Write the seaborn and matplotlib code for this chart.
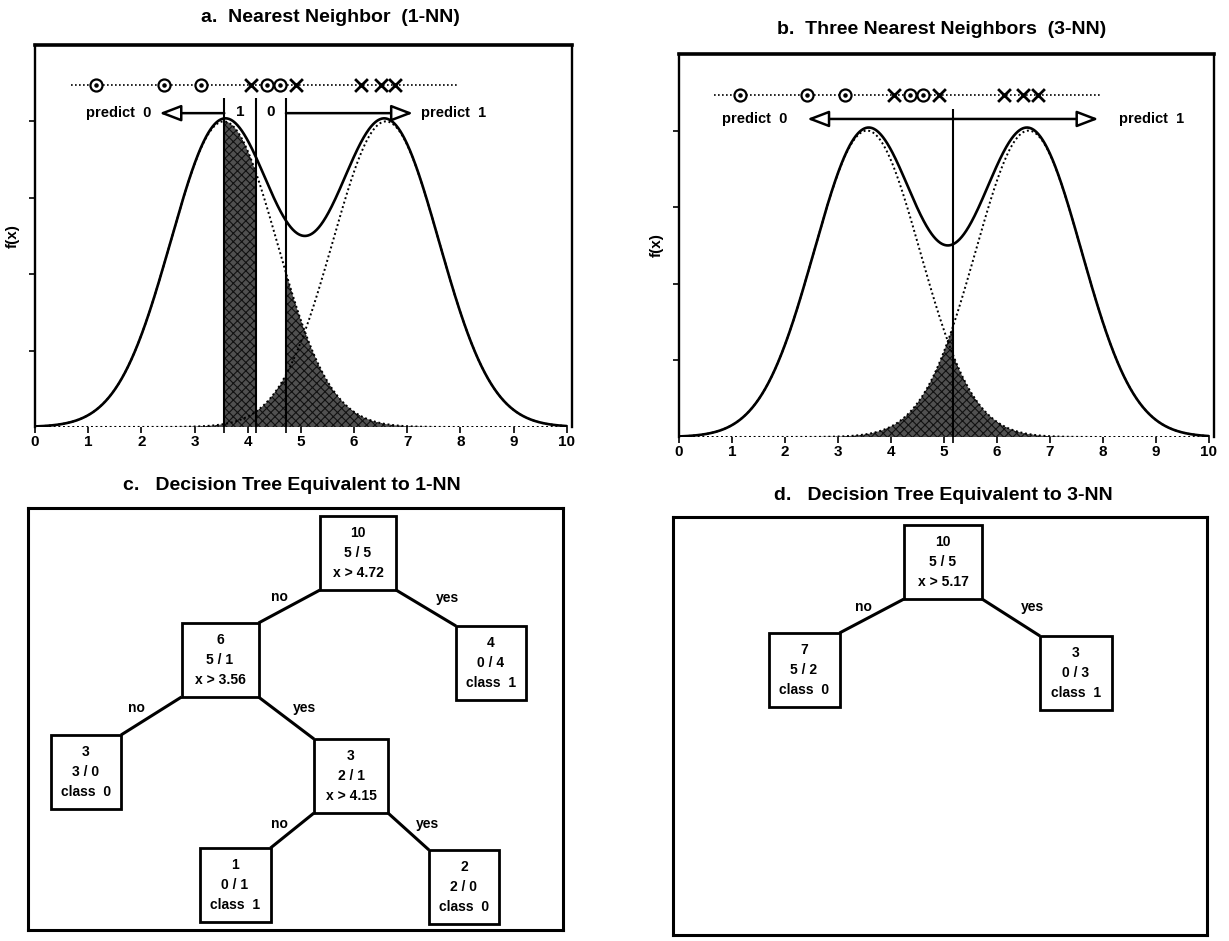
import numpy as np
import pandas as pd
import matplotlib
matplotlib.use("Agg")
import matplotlib.pyplot as plt
import seaborn as sns
from matplotlib.patches import Rectangle

# ---- class-conditional densities (equal-variance normals, peak scaled to 1) ----
class0_mean = 3.55
class1_mean = 6.6
class_sd = 1.0

# ---- training sample drawn on the line above the densities ----
class0_points = [1.15, 2.42, 3.13, 4.36, 4.60]
class1_points = [4.06, 4.90, 6.14, 6.50, 6.78]

# ---- decision boundaries and the class predicted in each region ----
nn1_bounds = [3.56, 4.15, 4.72]
nn1_predictions = [0, 1, 0, 1]
nn3_bounds = [5.17]
nn3_predictions = [0, 1]

x_ticks = list(range(0, 11))
y_ticks = [0.25, 0.5, 0.75, 1.0]

# ---- equivalent decision trees ----
tree_c_totals = ["10", "6", "4", "3", "3", "1", "2"]
tree_c_counts = ["5 / 5", "5 / 1", "0 / 4", "3 / 0", "2 / 1", "0 / 1", "2 / 0"]
tree_c_rules = ["x > 4.72", "x > 3.56", "class  1", "class  0", "x > 4.15", "class  1", "class  0"]
tree_c_edges = [(0, 1, "no"), (0, 2, "yes"), (1, 3, "no"), (1, 4, "yes"), (4, 5, "no"), (4, 6, "yes")]

tree_d_totals = ["10", "7", "3"]
tree_d_counts = ["5 / 5", "5 / 2", "0 / 3"]
tree_d_rules = ["x > 5.17", "class  0", "class  1"]
tree_d_edges = [(0, 1, "no"), (0, 2, "yes")]

# ---- style ----
sns.set_theme(style="white")
plt.rcParams["font.family"] = ["Liberation Sans", "DejaVu Sans"]
plt.rcParams["font.weight"] = "bold"
plt.rcParams["hatch.linewidth"] = 0.8
for key in ("text.color", "axes.labelcolor", "xtick.color", "ytick.color", "axes.edgecolor"):
    plt.rcParams[key] = "black"

W, H = 1229, 941
fig = plt.figure(figsize=(W / 100, H / 100), dpi=100)
fig.patch.set_facecolor("white")


def frac_rect(left, top, right, bottom):
    return [left / W, 1 - bottom / H, (right - left) / W, (bottom - top) / H]


def gauss(x, mu):
    return np.exp(-0.5 * ((x - mu) / class_sd) ** 2)


DOT = (0, (1.0, 1.4))
SHADE = dict(facecolor="#505050", edgecolor="#111111", hatch="xxxx", linewidth=0, zorder=1)


def density_panel(ax, bounds, preds, row_y, vtop):
    grid = np.union1d(np.linspace(0, 10, 1001), np.array(bounds))
    f0 = gauss(grid, class0_mean)
    f1 = gauss(grid, class1_mean)
    mix = f0 + f1
    df = pd.DataFrame({"x": grid, "mix": mix, "f0": f0, "f1": f1})

    # misclassified mass in each decision region
    edges = [0.0] + list(bounds) + [10.0]
    for lo, hi, p in zip(edges[:-1], edges[1:], preds):
        m = (grid >= lo) & (grid <= hi)
        wrong = f1 if p == 0 else f0
        ax.fill_between(grid[m], 0, wrong[m], **SHADE)

    sns.lineplot(data=df, x="x", y="f0", ax=ax, color="black", lw=1.4, linestyle=DOT, zorder=2)
    sns.lineplot(data=df, x="x", y="f1", ax=ax, color="black", lw=1.4, linestyle=DOT, zorder=2)
    sns.lineplot(data=df, x="x", y="mix", ax=ax, color="black", lw=1.9, zorder=3)

    ax.vlines(bounds, 0, vtop, color="black", lw=1.5, zorder=4)

    # sample points on a dotted line
    ax.plot([0.67, 7.95], [row_y, row_y], color="black", lw=1.2, linestyle=DOT, zorder=4)
    ax.scatter(class0_points, [row_y] * len(class0_points), s=75, marker="o",
               facecolor="white", edgecolor="black", linewidth=1.6, zorder=5)
    ax.scatter(class0_points, [row_y] * len(class0_points), s=5, marker="o",
               color="black", zorder=6)
    ax.scatter(class1_points, [row_y] * len(class1_points), s=85, marker="x",
               color="black", linewidth=2.0, zorder=5)

    ax.set_xlim(0, 10.1)
    ax.set_ylim(0, 1.25)
    ax.set_xticks(x_ticks)
    ax.set_xticklabels([str(t) for t in x_ticks], fontsize=11, fontweight="bold")
    ax.set_xticks(bounds, minor=True)
    ax.set_yticks(y_ticks)
    ax.set_yticklabels([])
    ax.tick_params(axis="both", which="both", direction="out", length=4, width=1.2,
                   color="black", labelcolor="black", bottom=True, left=True, pad=2)
    ax.set_xlabel("")
    ax.set_ylabel("f(x)", fontsize=11, fontweight="bold", labelpad=5, color="black")
    for side in ("left", "right"):
        ax.spines[side].set_linewidth(1.7)
        ax.spines[side].set_color("black")
    ax.spines["top"].set_linewidth(2.6)
    ax.spines["top"].set_color("black")
    ax.spines["bottom"].set_visible(False)
    ax.set_facecolor("white")


def open_arrow(ax, x0, x1, y, style="-|>"):
    ax.annotate("", xy=(x1, y), xytext=(x0, y),
                arrowprops=dict(arrowstyle=f"{style},head_length=1.1,head_width=0.42",
                                fc="white", ec="black", lw=1.8, shrinkA=0, shrinkB=0),
                zorder=6)


# ---- panel a ----
ax_a = fig.add_axes(frac_rect(35, 45, 572, 427))
density_panel(ax_a, nn1_bounds, nn1_predictions, 1.12, 1.076)
open_arrow(ax_a, nn1_bounds[0], 2.34, 1.027)
open_arrow(ax_a, nn1_bounds[-1], 7.11, 1.027)
ax_a.text(2.19, 1.027, "predict  0", ha="right", va="center", fontsize=10.5)
ax_a.text(7.26, 1.027, "predict  1", ha="left", va="center", fontsize=10.5)
mids = [(nn1_bounds[0] + nn1_bounds[1]) / 2, (nn1_bounds[1] + nn1_bounds[2]) / 2]
for mx, lab in zip(mids, ["1", "0"]):
    ax_a.text(mx, 1.03, lab, ha="center", va="center", fontsize=11)

# ---- panel b ----
ax_b = fig.add_axes(frac_rect(679, 54, 1214, 437))
density_panel(ax_b, nn3_bounds, nn3_predictions, 1.115, 1.071)
open_arrow(ax_b, 2.42, 7.92, 1.038, style="<|-|>")
ax_b.text(2.05, 1.038, "predict  0", ha="right", va="center", fontsize=10.5)
ax_b.text(8.3, 1.038, "predict  1", ha="left", va="center", fontsize=10.5)

# ---- titles ----
title_kw = dict(ha="center", va="center", fontsize=14, fontweight="bold", color="black")
fig.text(330 / W, 1 - 18 / H, "a.  Nearest Neighbor  (1-NN)", **title_kw)
fig.text(942 / W, 1 - 30 / H, "b.  Three Nearest Neighbors  (3-NN)", **title_kw)
fig.text(292 / W, 1 - 485 / H, "c.   Decision Tree Equivalent to 1-NN", **title_kw)
fig.text(943 / W, 1 - 495 / H, "d.   Decision Tree Equivalent to 3-NN", **title_kw)


# ---- tree panels (coordinates in figure pixels) ----
def tree_panel(rect, centers, widths, totals, counts, rules, edges, label_pos):
    left, top, right, bottom = rect
    ax = fig.add_axes(frac_rect(left, top, right, bottom))
    ax.set_xlim(left, right)
    ax.set_ylim(bottom, top)
    ax.set_xticks([])
    ax.set_yticks([])
    for s in ax.spines.values():
        s.set_linewidth(2.2)
        s.set_color("black")
    ax.set_facecolor("white")
    h = 74
    for (cx, cy), w, t, c, r in zip(centers, widths, totals, counts, rules):
        ax.add_patch(Rectangle((cx - w / 2, cy - h / 2), w, h, fill=False,
                               ec="black", lw=2.0, zorder=3))
        for dy, s in zip((-20, 0, 20), (t, c, r)):
            ax.text(cx, cy + dy, s, ha="center", va="center", fontsize=10, zorder=4)
    for (p, k, lab), (lx, ly) in zip(edges, label_pos):
        (px, py), pw = centers[p], widths[p]
        (kx, ky), kw = centers[k], widths[k]
        if kx < px:
            xs = [px - pw / 2, kx + kw / 2]
        else:
            xs = [px + pw / 2, kx - kw / 2]
        ax.plot(xs, [py + h / 2, ky - h / 2], color="black", lw=2.2, zorder=2,
                solid_capstyle="butt")
        ax.text(lx, ly, lab, ha="center", va="center", fontsize=10)
    return ax


tree_panel((28, 508, 563, 930),
           [(358, 553), (220, 660), (491, 663), (86, 772), (351, 776), (235, 885), (464, 887)],
           [76, 77, 70, 70, 74, 71, 70],
           tree_c_totals, tree_c_counts, tree_c_rules, tree_c_edges,
           [(279, 597), (447, 598), (136, 708), (304, 708), (279, 824), (427, 824)])

tree_panel((673, 517, 1207, 935),
           [(943, 562), (804, 670), (1076, 673)],
           [78, 71, 72],
           tree_d_totals, tree_d_counts, tree_d_rules, tree_d_edges,
           [(863, 607), (1032, 607)])

fig.savefig("out.png", dpi=100, facecolor="white")
